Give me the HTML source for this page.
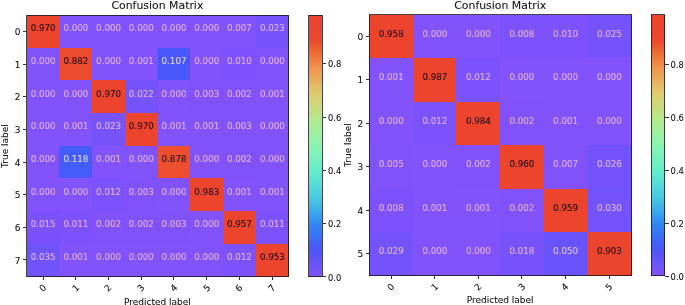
<!DOCTYPE html>
<html><head><meta charset="utf-8"><title>Confusion Matrix</title><style>
html,body{margin:0;padding:0;background:#fff}
body{filter:blur(0.4px);width:685px;height:305px;position:relative;overflow:hidden;font-family:"DejaVu Sans","Liberation Sans",sans-serif;color:#151515;-webkit-text-stroke:0.1px #151515}
div{position:absolute;box-sizing:border-box;white-space:nowrap}
.c{font-size:8.7px;text-align:center;-webkit-text-stroke:0.12px currentColor}
.c span{position:absolute;left:0;right:0;line-height:0;height:0;transform:translateY(0)}
.fr{border:0.9px solid rgba(20,20,30,0.8)}
.tk{background:#333}
.yl{width:20px;text-align:right;font-size:9.0px;line-height:0;height:0}
.cl{font-size:8.4px;line-height:0;height:0}
.xl{width:20px;text-align:center;font-size:9.0px;line-height:0;height:0;transform:rotate(-45deg)}
.ti{width:200px;text-align:center;font-size:10.9px;line-height:0;height:0}
.xt{width:200px;text-align:center;font-size:9.0px;line-height:0;height:0}
.yt{width:0;height:0;font-size:9.0px;line-height:0;transform:rotate(-90deg);text-align:center}
.yt{display:flex;justify-content:center}
</style></head><body>
<div class="c" style="left:26.60px;top:15.00px;width:33.03px;height:32.95px;background:rgb(236,68,45);color:rgb(40,10,10)"><span style="top:13.42px">0.970</span></div>
<div class="c" style="left:59.33px;top:15.00px;width:33.03px;height:32.95px;background:rgb(130,82,250);color:rgb(224,178,252)"><span style="top:13.42px">0.000</span></div>
<div class="c" style="left:92.06px;top:15.00px;width:33.03px;height:32.95px;background:rgb(130,82,250);color:rgb(224,178,252)"><span style="top:13.42px">0.000</span></div>
<div class="c" style="left:124.79px;top:15.00px;width:33.03px;height:32.95px;background:rgb(130,82,250);color:rgb(224,178,252)"><span style="top:13.42px">0.000</span></div>
<div class="c" style="left:157.52px;top:15.00px;width:33.03px;height:32.95px;background:rgb(130,82,250);color:rgb(224,178,252)"><span style="top:13.42px">0.000</span></div>
<div class="c" style="left:190.25px;top:15.00px;width:33.03px;height:32.95px;background:rgb(130,82,250);color:rgb(224,178,252)"><span style="top:13.42px">0.000</span></div>
<div class="c" style="left:222.98px;top:15.00px;width:33.03px;height:32.95px;background:rgb(127,82,250);color:rgb(224,178,252)"><span style="top:13.42px">0.007</span></div>
<div class="c" style="left:255.71px;top:15.00px;width:33.29px;height:32.95px;background:rgb(119,83,250);color:rgb(224,180,252)"><span style="top:13.42px">0.023</span></div>
<div class="c" style="left:26.60px;top:47.65px;width:33.03px;height:32.95px;background:rgb(130,82,250);color:rgb(224,178,252)"><span style="top:13.42px">0.000</span></div>
<div class="c" style="left:59.33px;top:47.65px;width:33.03px;height:32.95px;background:rgb(236,75,45);color:rgb(40,10,10)"><span style="top:13.42px">0.882</span></div>
<div class="c" style="left:92.06px;top:47.65px;width:33.03px;height:32.95px;background:rgb(130,82,250);color:rgb(224,178,252)"><span style="top:13.42px">0.000</span></div>
<div class="c" style="left:124.79px;top:47.65px;width:33.03px;height:32.95px;background:rgb(130,82,250);color:rgb(224,178,252)"><span style="top:13.42px">0.001</span></div>
<div class="c" style="left:157.52px;top:47.65px;width:33.03px;height:32.95px;background:rgb(72,86,250);color:rgb(220,217,255)"><span style="top:13.42px">0.107</span></div>
<div class="c" style="left:190.25px;top:47.65px;width:33.03px;height:32.95px;background:rgb(130,82,250);color:rgb(224,178,252)"><span style="top:13.42px">0.000</span></div>
<div class="c" style="left:222.98px;top:47.65px;width:33.03px;height:32.95px;background:rgb(125,82,250);color:rgb(224,178,252)"><span style="top:13.42px">0.010</span></div>
<div class="c" style="left:255.71px;top:47.65px;width:33.29px;height:32.95px;background:rgb(130,82,250);color:rgb(224,178,252)"><span style="top:13.42px">0.000</span></div>
<div class="c" style="left:26.60px;top:80.30px;width:33.03px;height:32.95px;background:rgb(130,82,250);color:rgb(224,178,252)"><span style="top:13.42px">0.000</span></div>
<div class="c" style="left:59.33px;top:80.30px;width:33.03px;height:32.95px;background:rgb(130,82,250);color:rgb(224,178,252)"><span style="top:13.42px">0.000</span></div>
<div class="c" style="left:92.06px;top:80.30px;width:33.03px;height:32.95px;background:rgb(236,68,45);color:rgb(40,10,10)"><span style="top:13.42px">0.970</span></div>
<div class="c" style="left:124.79px;top:80.30px;width:33.03px;height:32.95px;background:rgb(119,83,250);color:rgb(224,179,252)"><span style="top:13.42px">0.022</span></div>
<div class="c" style="left:157.52px;top:80.30px;width:33.03px;height:32.95px;background:rgb(130,82,250);color:rgb(224,178,252)"><span style="top:13.42px">0.000</span></div>
<div class="c" style="left:190.25px;top:80.30px;width:33.03px;height:32.95px;background:rgb(129,82,250);color:rgb(224,178,252)"><span style="top:13.42px">0.003</span></div>
<div class="c" style="left:222.98px;top:80.30px;width:33.03px;height:32.95px;background:rgb(129,82,250);color:rgb(224,178,252)"><span style="top:13.42px">0.002</span></div>
<div class="c" style="left:255.71px;top:80.30px;width:33.29px;height:32.95px;background:rgb(130,82,250);color:rgb(224,178,252)"><span style="top:13.42px">0.001</span></div>
<div class="c" style="left:26.60px;top:112.95px;width:33.03px;height:32.95px;background:rgb(130,82,250);color:rgb(224,178,252)"><span style="top:13.42px">0.000</span></div>
<div class="c" style="left:59.33px;top:112.95px;width:33.03px;height:32.95px;background:rgb(130,82,250);color:rgb(224,178,252)"><span style="top:13.42px">0.001</span></div>
<div class="c" style="left:92.06px;top:112.95px;width:33.03px;height:32.95px;background:rgb(119,83,250);color:rgb(224,180,252)"><span style="top:13.42px">0.023</span></div>
<div class="c" style="left:124.79px;top:112.95px;width:33.03px;height:32.95px;background:rgb(236,68,45);color:rgb(40,10,10)"><span style="top:13.42px">0.970</span></div>
<div class="c" style="left:157.52px;top:112.95px;width:33.03px;height:32.95px;background:rgb(130,82,250);color:rgb(224,178,252)"><span style="top:13.42px">0.001</span></div>
<div class="c" style="left:190.25px;top:112.95px;width:33.03px;height:32.95px;background:rgb(130,82,250);color:rgb(224,178,252)"><span style="top:13.42px">0.001</span></div>
<div class="c" style="left:222.98px;top:112.95px;width:33.03px;height:32.95px;background:rgb(129,82,250);color:rgb(224,178,252)"><span style="top:13.42px">0.003</span></div>
<div class="c" style="left:255.71px;top:112.95px;width:33.29px;height:32.95px;background:rgb(130,82,250);color:rgb(224,178,252)"><span style="top:13.42px">0.000</span></div>
<div class="c" style="left:26.60px;top:145.60px;width:33.03px;height:32.95px;background:rgb(130,82,250);color:rgb(224,178,252)"><span style="top:13.42px">0.000</span></div>
<div class="c" style="left:59.33px;top:145.60px;width:33.03px;height:32.95px;background:rgb(68,92,249);color:rgb(220,218,255)"><span style="top:13.42px">0.118</span></div>
<div class="c" style="left:92.06px;top:145.60px;width:33.03px;height:32.95px;background:rgb(130,82,250);color:rgb(224,178,252)"><span style="top:13.42px">0.001</span></div>
<div class="c" style="left:124.79px;top:145.60px;width:33.03px;height:32.95px;background:rgb(130,82,250);color:rgb(224,178,252)"><span style="top:13.42px">0.000</span></div>
<div class="c" style="left:157.52px;top:145.60px;width:33.03px;height:32.95px;background:rgb(237,78,46);color:rgb(40,10,10)"><span style="top:13.42px">0.878</span></div>
<div class="c" style="left:190.25px;top:145.60px;width:33.03px;height:32.95px;background:rgb(130,82,250);color:rgb(224,178,252)"><span style="top:13.42px">0.000</span></div>
<div class="c" style="left:222.98px;top:145.60px;width:33.03px;height:32.95px;background:rgb(129,82,250);color:rgb(224,178,252)"><span style="top:13.42px">0.002</span></div>
<div class="c" style="left:255.71px;top:145.60px;width:33.29px;height:32.95px;background:rgb(130,82,250);color:rgb(224,178,252)"><span style="top:13.42px">0.000</span></div>
<div class="c" style="left:26.60px;top:178.25px;width:33.03px;height:32.95px;background:rgb(130,82,250);color:rgb(224,178,252)"><span style="top:13.42px">0.000</span></div>
<div class="c" style="left:59.33px;top:178.25px;width:33.03px;height:32.95px;background:rgb(130,82,250);color:rgb(224,178,252)"><span style="top:13.42px">0.000</span></div>
<div class="c" style="left:92.06px;top:178.25px;width:33.03px;height:32.95px;background:rgb(124,82,250);color:rgb(224,178,252)"><span style="top:13.42px">0.012</span></div>
<div class="c" style="left:124.79px;top:178.25px;width:33.03px;height:32.95px;background:rgb(129,82,250);color:rgb(224,178,252)"><span style="top:13.42px">0.003</span></div>
<div class="c" style="left:157.52px;top:178.25px;width:33.03px;height:32.95px;background:rgb(130,82,250);color:rgb(224,178,252)"><span style="top:13.42px">0.000</span></div>
<div class="c" style="left:190.25px;top:178.25px;width:33.03px;height:32.95px;background:rgb(236,68,45);color:rgb(40,10,10)"><span style="top:13.42px">0.983</span></div>
<div class="c" style="left:222.98px;top:178.25px;width:33.03px;height:32.95px;background:rgb(130,82,250);color:rgb(224,178,252)"><span style="top:13.42px">0.001</span></div>
<div class="c" style="left:255.71px;top:178.25px;width:33.29px;height:32.95px;background:rgb(130,82,250);color:rgb(224,178,252)"><span style="top:13.42px">0.001</span></div>
<div class="c" style="left:26.60px;top:210.90px;width:33.03px;height:32.95px;background:rgb(123,82,250);color:rgb(224,178,252)"><span style="top:13.42px">0.015</span></div>
<div class="c" style="left:59.33px;top:210.90px;width:33.03px;height:32.95px;background:rgb(125,82,250);color:rgb(224,178,252)"><span style="top:13.42px">0.011</span></div>
<div class="c" style="left:92.06px;top:210.90px;width:33.03px;height:32.95px;background:rgb(129,82,250);color:rgb(224,178,252)"><span style="top:13.42px">0.002</span></div>
<div class="c" style="left:124.79px;top:210.90px;width:33.03px;height:32.95px;background:rgb(129,82,250);color:rgb(224,178,252)"><span style="top:13.42px">0.002</span></div>
<div class="c" style="left:157.52px;top:210.90px;width:33.03px;height:32.95px;background:rgb(129,82,250);color:rgb(224,178,252)"><span style="top:13.42px">0.003</span></div>
<div class="c" style="left:190.25px;top:210.90px;width:33.03px;height:32.95px;background:rgb(130,82,250);color:rgb(224,178,252)"><span style="top:13.42px">0.000</span></div>
<div class="c" style="left:222.98px;top:210.90px;width:33.03px;height:32.95px;background:rgb(236,68,45);color:rgb(40,10,10)"><span style="top:13.42px">0.957</span></div>
<div class="c" style="left:255.71px;top:210.90px;width:33.29px;height:32.95px;background:rgb(125,82,250);color:rgb(224,178,252)"><span style="top:13.42px">0.011</span></div>
<div class="c" style="left:26.60px;top:243.55px;width:33.03px;height:33.25px;background:rgb(113,83,250);color:rgb(223,185,253)"><span style="top:13.42px">0.035</span></div>
<div class="c" style="left:59.33px;top:243.55px;width:33.03px;height:33.25px;background:rgb(130,82,250);color:rgb(224,178,252)"><span style="top:13.42px">0.001</span></div>
<div class="c" style="left:92.06px;top:243.55px;width:33.03px;height:33.25px;background:rgb(130,82,250);color:rgb(224,178,252)"><span style="top:13.42px">0.000</span></div>
<div class="c" style="left:124.79px;top:243.55px;width:33.03px;height:33.25px;background:rgb(130,82,250);color:rgb(224,178,252)"><span style="top:13.42px">0.000</span></div>
<div class="c" style="left:157.52px;top:243.55px;width:33.03px;height:33.25px;background:rgb(130,82,250);color:rgb(224,178,252)"><span style="top:13.42px">0.000</span></div>
<div class="c" style="left:190.25px;top:243.55px;width:33.03px;height:33.25px;background:rgb(130,82,250);color:rgb(224,178,252)"><span style="top:13.42px">0.000</span></div>
<div class="c" style="left:222.98px;top:243.55px;width:33.03px;height:33.25px;background:rgb(124,82,250);color:rgb(224,178,252)"><span style="top:13.42px">0.012</span></div>
<div class="c" style="left:255.71px;top:243.55px;width:33.29px;height:33.25px;background:rgb(236,68,45);color:rgb(40,10,10)"><span style="top:13.42px">0.953</span></div>
<div class="fr" style="left:26.15px;top:14.55px;width:263.30px;height:262.70px"></div>
<div class="tk" style="left:23.00px;top:30.93px;width:3.2px;height:0.8px"></div>
<div class="yl" style="left:0.50px;top:32.02px">0</div>
<div class="tk" style="left:23.00px;top:63.57px;width:3.2px;height:0.8px"></div>
<div class="yl" style="left:0.50px;top:64.67px">1</div>
<div class="tk" style="left:23.00px;top:96.22px;width:3.2px;height:0.8px"></div>
<div class="yl" style="left:0.50px;top:97.33px">2</div>
<div class="tk" style="left:23.00px;top:128.87px;width:3.2px;height:0.8px"></div>
<div class="yl" style="left:0.50px;top:129.97px">3</div>
<div class="tk" style="left:23.00px;top:161.52px;width:3.2px;height:0.8px"></div>
<div class="yl" style="left:0.50px;top:162.62px">4</div>
<div class="tk" style="left:23.00px;top:194.17px;width:3.2px;height:0.8px"></div>
<div class="yl" style="left:0.50px;top:195.27px">5</div>
<div class="tk" style="left:23.00px;top:226.82px;width:3.2px;height:0.8px"></div>
<div class="yl" style="left:0.50px;top:227.92px">6</div>
<div class="tk" style="left:23.00px;top:259.48px;width:3.2px;height:0.8px"></div>
<div class="yl" style="left:0.50px;top:260.57px">7</div>
<div class="tk" style="left:42.57px;top:277.25px;width:0.8px;height:3.0px"></div>
<div class="xl" style="left:32.97px;top:287.80px">0</div>
<div class="tk" style="left:75.29px;top:277.25px;width:0.8px;height:3.0px"></div>
<div class="xl" style="left:65.69px;top:287.80px">1</div>
<div class="tk" style="left:108.02px;top:277.25px;width:0.8px;height:3.0px"></div>
<div class="xl" style="left:98.42px;top:287.80px">2</div>
<div class="tk" style="left:140.75px;top:277.25px;width:0.8px;height:3.0px"></div>
<div class="xl" style="left:131.16px;top:287.80px">3</div>
<div class="tk" style="left:173.48px;top:277.25px;width:0.8px;height:3.0px"></div>
<div class="xl" style="left:163.88px;top:287.80px">4</div>
<div class="tk" style="left:206.21px;top:277.25px;width:0.8px;height:3.0px"></div>
<div class="xl" style="left:196.61px;top:287.80px">5</div>
<div class="tk" style="left:238.94px;top:277.25px;width:0.8px;height:3.0px"></div>
<div class="xl" style="left:229.34px;top:287.80px">6</div>
<div class="tk" style="left:271.68px;top:277.25px;width:0.8px;height:3.0px"></div>
<div class="xl" style="left:262.07px;top:287.80px">7</div>
<div class="ti" style="left:57.40px;top:6.40px">Confusion Matrix</div>
<div class="xt" style="left:57.40px;top:302.40px">Predicted label</div>
<div class="yt" style="left:5.30px;top:145.90px">True label</div>
<div class="cb" style="left:308.80px;top:15.00px;width:13.30px;height:261.80px;background:linear-gradient(to bottom,rgb(236,68,45) 0.0%,rgb(236,68,45) 2.5%,rgb(236,69,45) 5.0%,rgb(236,69,45) 7.5%,rgb(236,73,45) 10.0%,rgb(238,93,47) 12.5%,rgb(239,111,54) 15.0%,rgb(240,129,65) 17.5%,rgb(242,146,76) 20.0%,rgb(238,160,84) 22.5%,rgb(233,174,93) 25.0%,rgb(228,189,102) 27.5%,rgb(224,203,110) 30.0%,rgb(213,211,117) 32.5%,rgb(201,218,125) 35.0%,rgb(190,226,132) 37.5%,rgb(178,234,140) 40.0%,rgb(168,236,150) 42.5%,rgb(158,239,159) 45.0%,rgb(148,242,168) 47.5%,rgb(138,244,178) 50.0%,rgb(128,242,184) 52.5%,rgb(119,240,191) 55.0%,rgb(110,238,198) 57.5%,rgb(100,236,204) 60.0%,rgb(93,227,210) 62.5%,rgb(86,218,216) 65.0%,rgb(79,209,222) 67.5%,rgb(72,200,228) 70.0%,rgb(66,185,232) 72.5%,rgb(60,170,237) 75.0%,rgb(54,153,240) 77.5%,rgb(48,136,242) 80.0%,rgb(53,123,244) 82.5%,rgb(58,110,246) 85.0%,rgb(67,95,248) 87.5%,rgb(77,86,250) 90.0%,rgb(91,85,250) 92.5%,rgb(105,84,250) 95.0%,rgb(118,83,250) 97.5%,rgb(130,82,250) 100.0%)"></div>
<div class="fr" style="left:308.35px;top:14.55px;width:14.20px;height:262.70px"></div>
<div class="tk" style="left:322.55px;top:276.40px;width:3.2px;height:0.8px"></div>
<div class="cl" style="left:328.00px;top:277.50px">0.0</div>
<div class="tk" style="left:322.55px;top:223.13px;width:3.2px;height:0.8px"></div>
<div class="cl" style="left:328.00px;top:224.23px">0.2</div>
<div class="tk" style="left:322.55px;top:169.87px;width:3.2px;height:0.8px"></div>
<div class="cl" style="left:328.00px;top:170.97px">0.4</div>
<div class="tk" style="left:322.55px;top:116.60px;width:3.2px;height:0.8px"></div>
<div class="cl" style="left:328.00px;top:117.70px">0.6</div>
<div class="tk" style="left:322.55px;top:63.34px;width:3.2px;height:0.8px"></div>
<div class="cl" style="left:328.00px;top:64.44px">0.8</div>
<div class="c" style="left:369.30px;top:14.50px;width:43.88px;height:43.80px;background:rgb(236,68,45);color:rgb(40,10,10)"><span style="top:19.05px">0.958</span></div>
<div class="c" style="left:412.88px;top:14.50px;width:43.88px;height:43.80px;background:rgb(130,82,250);color:rgb(224,178,252)"><span style="top:19.05px">0.000</span></div>
<div class="c" style="left:456.46px;top:14.50px;width:43.88px;height:43.80px;background:rgb(130,82,250);color:rgb(224,178,252)"><span style="top:19.05px">0.000</span></div>
<div class="c" style="left:500.04px;top:14.50px;width:43.88px;height:43.80px;background:rgb(126,82,250);color:rgb(224,178,252)"><span style="top:19.05px">0.008</span></div>
<div class="c" style="left:543.62px;top:14.50px;width:43.88px;height:43.80px;background:rgb(125,82,250);color:rgb(224,178,252)"><span style="top:19.05px">0.010</span></div>
<div class="c" style="left:587.20px;top:14.50px;width:44.40px;height:43.80px;background:rgb(118,83,250);color:rgb(224,180,252)"><span style="top:19.05px">0.025</span></div>
<div class="c" style="left:369.30px;top:58.00px;width:43.88px;height:43.80px;background:rgb(130,82,250);color:rgb(224,178,252)"><span style="top:19.05px">0.001</span></div>
<div class="c" style="left:412.88px;top:58.00px;width:43.88px;height:43.80px;background:rgb(236,68,45);color:rgb(40,10,10)"><span style="top:19.05px">0.987</span></div>
<div class="c" style="left:456.46px;top:58.00px;width:43.88px;height:43.80px;background:rgb(124,82,250);color:rgb(224,178,252)"><span style="top:19.05px">0.012</span></div>
<div class="c" style="left:500.04px;top:58.00px;width:43.88px;height:43.80px;background:rgb(130,82,250);color:rgb(224,178,252)"><span style="top:19.05px">0.000</span></div>
<div class="c" style="left:543.62px;top:58.00px;width:43.88px;height:43.80px;background:rgb(130,82,250);color:rgb(224,178,252)"><span style="top:19.05px">0.000</span></div>
<div class="c" style="left:587.20px;top:58.00px;width:44.40px;height:43.80px;background:rgb(130,82,250);color:rgb(224,178,252)"><span style="top:19.05px">0.000</span></div>
<div class="c" style="left:369.30px;top:101.50px;width:43.88px;height:43.80px;background:rgb(130,82,250);color:rgb(224,178,252)"><span style="top:19.05px">0.000</span></div>
<div class="c" style="left:412.88px;top:101.50px;width:43.88px;height:43.80px;background:rgb(124,82,250);color:rgb(224,178,252)"><span style="top:19.05px">0.012</span></div>
<div class="c" style="left:456.46px;top:101.50px;width:43.88px;height:43.80px;background:rgb(236,68,45);color:rgb(40,10,10)"><span style="top:19.05px">0.984</span></div>
<div class="c" style="left:500.04px;top:101.50px;width:43.88px;height:43.80px;background:rgb(129,82,250);color:rgb(224,178,252)"><span style="top:19.05px">0.002</span></div>
<div class="c" style="left:543.62px;top:101.50px;width:43.88px;height:43.80px;background:rgb(130,82,250);color:rgb(224,178,252)"><span style="top:19.05px">0.001</span></div>
<div class="c" style="left:587.20px;top:101.50px;width:44.40px;height:43.80px;background:rgb(130,82,250);color:rgb(224,178,252)"><span style="top:19.05px">0.000</span></div>
<div class="c" style="left:369.30px;top:145.00px;width:43.88px;height:43.80px;background:rgb(128,82,250);color:rgb(224,178,252)"><span style="top:19.05px">0.005</span></div>
<div class="c" style="left:412.88px;top:145.00px;width:43.88px;height:43.80px;background:rgb(130,82,250);color:rgb(224,178,252)"><span style="top:19.05px">0.000</span></div>
<div class="c" style="left:456.46px;top:145.00px;width:43.88px;height:43.80px;background:rgb(129,82,250);color:rgb(224,178,252)"><span style="top:19.05px">0.002</span></div>
<div class="c" style="left:500.04px;top:145.00px;width:43.88px;height:43.80px;background:rgb(236,68,45);color:rgb(40,10,10)"><span style="top:19.05px">0.960</span></div>
<div class="c" style="left:543.62px;top:145.00px;width:43.88px;height:43.80px;background:rgb(127,82,250);color:rgb(224,178,252)"><span style="top:19.05px">0.007</span></div>
<div class="c" style="left:587.20px;top:145.00px;width:44.40px;height:43.80px;background:rgb(117,83,250);color:rgb(224,181,252)"><span style="top:19.05px">0.026</span></div>
<div class="c" style="left:369.30px;top:188.50px;width:43.88px;height:43.80px;background:rgb(126,82,250);color:rgb(224,178,252)"><span style="top:19.05px">0.008</span></div>
<div class="c" style="left:412.88px;top:188.50px;width:43.88px;height:43.80px;background:rgb(130,82,250);color:rgb(224,178,252)"><span style="top:19.05px">0.001</span></div>
<div class="c" style="left:456.46px;top:188.50px;width:43.88px;height:43.80px;background:rgb(130,82,250);color:rgb(224,178,252)"><span style="top:19.05px">0.001</span></div>
<div class="c" style="left:500.04px;top:188.50px;width:43.88px;height:43.80px;background:rgb(129,82,250);color:rgb(224,178,252)"><span style="top:19.05px">0.002</span></div>
<div class="c" style="left:543.62px;top:188.50px;width:43.88px;height:43.80px;background:rgb(236,68,45);color:rgb(40,10,10)"><span style="top:19.05px">0.959</span></div>
<div class="c" style="left:587.20px;top:188.50px;width:44.40px;height:43.80px;background:rgb(115,83,250);color:rgb(224,183,252)"><span style="top:19.05px">0.030</span></div>
<div class="c" style="left:369.30px;top:232.00px;width:43.88px;height:44.00px;background:rgb(116,83,250);color:rgb(224,182,252)"><span style="top:19.05px">0.029</span></div>
<div class="c" style="left:412.88px;top:232.00px;width:43.88px;height:44.00px;background:rgb(130,82,250);color:rgb(224,178,252)"><span style="top:19.05px">0.000</span></div>
<div class="c" style="left:456.46px;top:232.00px;width:43.88px;height:44.00px;background:rgb(130,82,250);color:rgb(224,178,252)"><span style="top:19.05px">0.000</span></div>
<div class="c" style="left:500.04px;top:232.00px;width:43.88px;height:44.00px;background:rgb(121,83,250);color:rgb(224,178,252)"><span style="top:19.05px">0.018</span></div>
<div class="c" style="left:543.62px;top:232.00px;width:43.88px;height:44.00px;background:rgb(104,84,250);color:rgb(223,192,253)"><span style="top:19.05px">0.050</span></div>
<div class="c" style="left:587.20px;top:232.00px;width:44.40px;height:44.00px;background:rgb(236,69,45);color:rgb(40,10,10)"><span style="top:19.05px">0.903</span></div>
<div class="fr" style="left:368.85px;top:14.05px;width:263.20px;height:262.40px"></div>
<div class="tk" style="left:365.70px;top:35.85px;width:3.2px;height:0.8px"></div>
<div class="yl" style="left:343.20px;top:36.95px">0</div>
<div class="tk" style="left:365.70px;top:79.35px;width:3.2px;height:0.8px"></div>
<div class="yl" style="left:343.20px;top:80.45px">1</div>
<div class="tk" style="left:365.70px;top:122.85px;width:3.2px;height:0.8px"></div>
<div class="yl" style="left:343.20px;top:123.95px">2</div>
<div class="tk" style="left:365.70px;top:166.35px;width:3.2px;height:0.8px"></div>
<div class="yl" style="left:343.20px;top:167.45px">3</div>
<div class="tk" style="left:365.70px;top:209.85px;width:3.2px;height:0.8px"></div>
<div class="yl" style="left:343.20px;top:210.95px">4</div>
<div class="tk" style="left:365.70px;top:253.35px;width:3.2px;height:0.8px"></div>
<div class="yl" style="left:343.20px;top:254.45px">5</div>
<div class="tk" style="left:390.69px;top:276.45px;width:0.8px;height:3.0px"></div>
<div class="xl" style="left:381.09px;top:286.80px">0</div>
<div class="tk" style="left:434.27px;top:276.45px;width:0.8px;height:3.0px"></div>
<div class="xl" style="left:424.67px;top:286.80px">1</div>
<div class="tk" style="left:477.85px;top:276.45px;width:0.8px;height:3.0px"></div>
<div class="xl" style="left:468.25px;top:286.80px">2</div>
<div class="tk" style="left:521.43px;top:276.45px;width:0.8px;height:3.0px"></div>
<div class="xl" style="left:511.83px;top:286.80px">3</div>
<div class="tk" style="left:565.01px;top:276.45px;width:0.8px;height:3.0px"></div>
<div class="xl" style="left:555.41px;top:286.80px">4</div>
<div class="tk" style="left:608.59px;top:276.45px;width:0.8px;height:3.0px"></div>
<div class="xl" style="left:598.99px;top:286.80px">5</div>
<div class="ti" style="left:400.20px;top:6.30px">Confusion Matrix</div>
<div class="xt" style="left:400.20px;top:299.70px">Predicted label</div>
<div class="yt" style="left:348.20px;top:145.25px">True label</div>
<div class="cb" style="left:651.20px;top:14.50px;width:13.80px;height:261.50px;background:linear-gradient(to bottom,rgb(236,68,45) 0.0%,rgb(236,68,45) 2.5%,rgb(236,69,45) 5.0%,rgb(236,69,45) 7.5%,rgb(236,73,45) 10.0%,rgb(238,93,47) 12.5%,rgb(239,111,54) 15.0%,rgb(240,129,65) 17.5%,rgb(242,146,76) 20.0%,rgb(238,160,84) 22.5%,rgb(233,174,93) 25.0%,rgb(228,189,102) 27.5%,rgb(224,203,110) 30.0%,rgb(213,211,117) 32.5%,rgb(201,218,125) 35.0%,rgb(190,226,132) 37.5%,rgb(178,234,140) 40.0%,rgb(168,236,150) 42.5%,rgb(158,239,159) 45.0%,rgb(148,242,168) 47.5%,rgb(138,244,178) 50.0%,rgb(128,242,184) 52.5%,rgb(119,240,191) 55.0%,rgb(110,238,198) 57.5%,rgb(100,236,204) 60.0%,rgb(93,227,210) 62.5%,rgb(86,218,216) 65.0%,rgb(79,209,222) 67.5%,rgb(72,200,228) 70.0%,rgb(66,185,232) 72.5%,rgb(60,170,237) 75.0%,rgb(54,153,240) 77.5%,rgb(48,136,242) 80.0%,rgb(53,123,244) 82.5%,rgb(58,110,246) 85.0%,rgb(67,95,248) 87.5%,rgb(77,86,250) 90.0%,rgb(91,85,250) 92.5%,rgb(105,84,250) 95.0%,rgb(118,83,250) 97.5%,rgb(130,82,250) 100.0%)"></div>
<div class="fr" style="left:650.75px;top:14.05px;width:14.70px;height:262.40px"></div>
<div class="tk" style="left:665.45px;top:275.60px;width:3.2px;height:0.8px"></div>
<div class="cl" style="left:670.60px;top:276.70px">0.0</div>
<div class="tk" style="left:665.45px;top:222.61px;width:3.2px;height:0.8px"></div>
<div class="cl" style="left:670.60px;top:223.71px">0.2</div>
<div class="tk" style="left:665.45px;top:169.62px;width:3.2px;height:0.8px"></div>
<div class="cl" style="left:670.60px;top:170.72px">0.4</div>
<div class="tk" style="left:665.45px;top:116.63px;width:3.2px;height:0.8px"></div>
<div class="cl" style="left:670.60px;top:117.73px">0.6</div>
<div class="tk" style="left:665.45px;top:63.64px;width:3.2px;height:0.8px"></div>
<div class="cl" style="left:670.60px;top:64.74px">0.8</div>
</body></html>
